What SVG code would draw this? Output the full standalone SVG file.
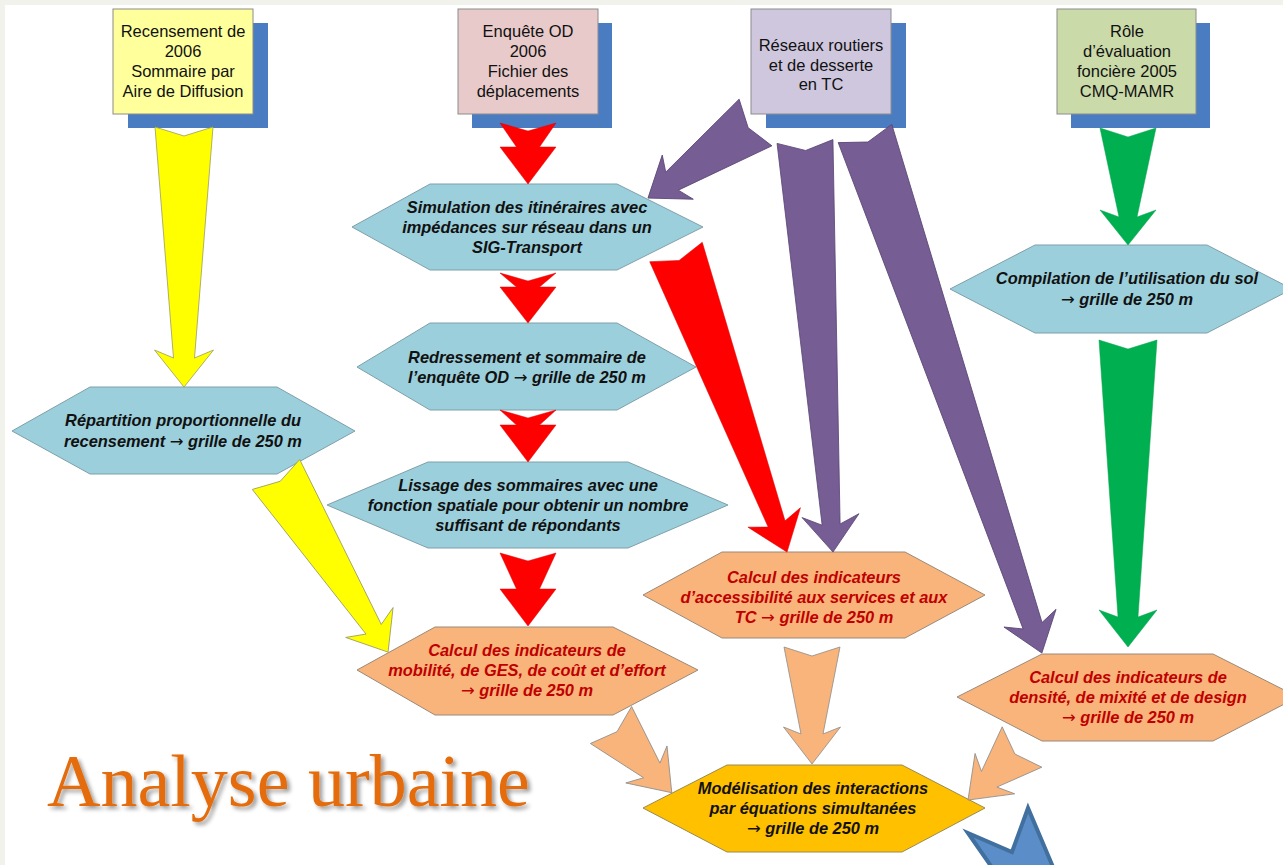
<svg xmlns="http://www.w3.org/2000/svg" width="1283" height="865" viewBox="0 0 1283 865">
<defs>
<style>
.box{stroke:#8c8c8c;stroke-width:1}
.shadow{fill:#4a7cc2}
.bt{font-family:"Liberation Sans",Arial,sans-serif;font-size:16.5px;fill:#111;text-anchor:middle}
.hb{fill:#9bcfdc;stroke:#7fa0aa;stroke-width:1}
.ho{fill:#f8b47a;stroke:#9a8a7a;stroke-width:1}
.hg{fill:#ffc000;stroke:#9a8a50;stroke-width:1}
.ht{font-family:"Liberation Sans",Arial,sans-serif;font-size:16.4px;font-weight:bold;font-style:italic;text-anchor:middle;fill:#111}
.hr{fill:#c00000}
.arw{font-family:"DejaVu Sans",sans-serif;font-weight:normal;font-style:normal}
.ay{fill:#ffff00;stroke:#9c9c60;stroke-width:0.8}
.ar{fill:#ff0000;stroke:#e00000;stroke-width:0.5}
.ap{fill:#765d94;stroke:#5a4575;stroke-width:0.8}
.ag{fill:#00b050;stroke:#00a048;stroke-width:0.5}
.ao{fill:#f8b47a;stroke:#8c8c8c;stroke-width:0.8}
</style>
<filter id="ts" x="-5%" y="-20%" width="115%" height="150%">
<feGaussianBlur in="SourceAlpha" stdDeviation="2"/>
<feOffset dx="3" dy="3" result="b"/>
<feComponentTransfer><feFuncA type="linear" slope="0.4"/></feComponentTransfer>
<feMerge><feMergeNode/><feMergeNode in="SourceGraphic"/></feMerge>
</filter>
</defs>
<rect x="0" y="0" width="1283" height="865" fill="#f2f2ec"/>
<rect x="5" y="5" width="1278" height="860" fill="#ffffff"/>

<g id="src-recensement">
<rect class="shadow" x="128" y="23" width="140" height="105"/>
<rect class="box" x="113" y="9" width="140" height="105" fill="#ffff9c"/>
<text class="bt"><tspan x="183" y="37">Recensement de</tspan><tspan x="183" y="57">2006</tspan><tspan x="183" y="77">Sommaire par</tspan><tspan x="183" y="97">Aire de Diffusion</tspan></text>
</g>
<g id="src-enquete">
<rect class="shadow" x="472" y="23" width="140" height="105"/>
<rect class="box" x="458" y="9" width="140" height="105" fill="#e8caca"/>
<text class="bt"><tspan x="528" y="37">Enquête OD</tspan><tspan x="528" y="57">2006</tspan><tspan x="528" y="77">Fichier des</tspan><tspan x="528" y="97">déplacements</tspan></text>
</g>
<g id="src-reseaux">
<rect class="shadow" x="766" y="23" width="140" height="105"/>
<rect class="box" x="751" y="9" width="140" height="105" fill="#cfc7de"/>
<text class="bt"><tspan x="821" y="51">Réseaux routiers</tspan><tspan x="821" y="70.5">et de desserte</tspan><tspan x="821" y="90">en TC</tspan></text>
</g>
<g id="src-role">
<rect class="shadow" x="1071" y="23" width="139" height="105"/>
<rect class="box" x="1057" y="9" width="139" height="105" fill="#cadaa9"/>
<text class="bt"><tspan x="1127" y="37">Rôle</tspan><tspan x="1127" y="57">d’évaluation</tspan><tspan x="1127" y="77">foncière 2005</tspan><tspan x="1127" y="96.5">CMQ-MAMR</tspan></text>
</g>

<g id="n-simulation">
<polygon class="hb" points="352,227 430,184 617,184 703,227 617,270 430,270"/>
<text class="ht"><tspan x="527" y="213">Simulation des itinéraires avec</tspan><tspan x="527" y="233">impédances sur réseau dans un</tspan><tspan x="527" y="253">SIG-Transport</tspan></text>
</g>
<g id="n-redressement">
<polygon class="hb" points="357,367 430,323 617,323 696,367 617,410 430,410"/>
<text class="ht"><tspan x="527" y="362.5">Redressement et sommaire de</tspan><tspan x="527" y="382.5">l’enquête OD <tspan class="arw">→</tspan> grille de 250 m</tspan></text>
</g>
<g id="n-lissage">
<polygon class="hb" points="327,505 428,462 628,462 728,505 628,548 428,548"/>
<text class="ht"><tspan x="528" y="490.5">Lissage des sommaires avec une</tspan><tspan x="528" y="510.5">fonction spatiale pour obtenir un nombre</tspan><tspan x="528" y="530.5">suffisant de répondants</tspan></text>
</g>
<g id="n-repartition">
<polygon class="hb" points="12,431 90,387 277,387 355,431 277,474 90,474"/>
<text class="ht"><tspan x="183" y="425.5">Répartition proportionnelle du</tspan><tspan x="183" y="446.5">recensement <tspan class="arw">→</tspan> grille de 250 m</tspan></text>
</g>
<g id="n-compilation">
<polygon class="hb" points="950,289 1035,245 1207,245 1292,289 1207,333 1035,333"/>
<text class="ht"><tspan x="1127" y="283.5">Compilation de l’utilisation du sol</tspan><tspan x="1127" y="304.5"><tspan class="arw">→</tspan> grille de 250 m</tspan></text>
</g>
<g id="n-mobilite">
<polygon class="ho" points="357,670 435,627 613,627 698,670 613,715 435,715"/>
<text class="ht hr"><tspan x="527" y="655.5">Calcul des indicateurs de</tspan><tspan x="527" y="675.5">mobilité, de GES, de coût et d’effort</tspan><tspan x="527" y="695.5"><tspan class="arw">→</tspan> grille de 250 m</tspan></text>
</g>
<g id="n-accessibilite">
<polygon class="ho" points="643,595 722,552 905,552 985,595 905,638 722,638"/>
<text class="ht hr"><tspan x="814" y="582.5">Calcul des indicateurs</tspan><tspan x="814" y="602.5">d’accessibilité aux services et aux</tspan><tspan x="814" y="622.5">TC <tspan class="arw">→</tspan> grille de 250 m</tspan></text>
</g>
<g id="n-densite">
<polygon class="ho" points="957,697 1042,654 1213,654 1298,697 1213,741 1042,741"/>
<text class="ht hr"><tspan x="1128" y="682.5">Calcul des indicateurs de</tspan><tspan x="1128" y="702.5">densité, de mixité et de design</tspan><tspan x="1128" y="722.5"><tspan class="arw">→</tspan> grille de 250 m</tspan></text>
</g>
<g id="n-modelisation">
<polygon class="hg" points="643,808 727,765 902,765 985,808 902,852 727,852"/>
<text class="ht"><tspan x="813" y="793.5">Modélisation des interactions</tspan><tspan x="813" y="813.5">par équations simultanées</tspan><tspan x="813" y="833.5"><tspan class="arw">→</tspan> grille de 250 m</tspan></text>
</g>

<g id="connectors">
<polygon class="ay" transform="translate(184,127) rotate(90)" points="0,-29 9,0 0,29 231,10.5 223,29.5 260,0 223,-29.5 231,-10.5"/>
<polygon class="ay" transform="translate(276,474.5) rotate(57.75)" points="0,-28 8,0 0,28 183,9 175,28 210,0 175,-28 183,-9"/>
<polygon class="ar" transform="translate(528,123) rotate(90)" points="0,-28 8,0 0,28 24,11.5 24,28 61,0 24,-28 24,-11.5"/>
<polygon class="ar" transform="translate(528,273) rotate(90)" points="0,-28 8,0 0,28 14,11.5 14,28 50,0 14,-28 14,-11.5"/>
<polygon class="ar" transform="translate(528,410) rotate(90)" points="0,-28 8,0 0,28 15,11.5 15,28 52,0 15,-28 15,-11.5"/>
<polygon class="ar" transform="translate(528,553) rotate(90)" points="0,-28 8,0 0,28 36,11.5 36,28 73,0 36,-28 36,-11.5"/>
<polygon class="ar" transform="translate(676,252) rotate(69.7)" points="0,-28 9,0 0,28 290,9 283,28 320,0 283,-28 290,-9"/>
<polygon class="ap" transform="translate(755.5,122.5) rotate(144.9)" points="0,-28.5 9,0 0,28.5 102,11 95,27 131.4,0 95,-27 102,-11"/>
<polygon class="ap" transform="translate(805,141.5) rotate(86.1)" points="0,-28 9,0 0,28 384,9 375,28.5 411.5,0 375,-28.5 384,-9"/>
<polygon class="ap" transform="translate(865,133.5) rotate(71.2)" points="0,-28.3 9,0 0,28.3 520,10 512,27.5 548.8,0 512,-27.5 520,-10"/>
<polygon class="ag" transform="translate(1128,128) rotate(90)" points="0,-28 9,0 0,28 89,9 82,28 117,0 82,-28 89,-9"/>
<polygon class="ag" transform="translate(1128,340) rotate(90)" points="0,-29 9,0 0,29 277,10 270,29 307,0 270,-29 277,-10"/>
<polygon class="ao" transform="translate(611,725) rotate(48.1)" points="0,-27.7 9,0 0,27.7 61,11 53,27.7 91,0 53,-27.7 61,-11"/>
<polygon class="ao" transform="translate(812,647) rotate(90)" points="0,-28 9,0 0,28 87,11 80,28.5 117,0 80,-28.5 87,-11"/>
<polygon class="ao" transform="translate(1022,747) rotate(135.5)" points="0,-28.3 10,0 0,28.3 46,11 38,28.3 75.7,0 38,-28.3 46,-11"/>
<polygon fill="#5b8ec8" stroke="#41709f" stroke-width="4" stroke-linejoin="miter" points="968,833 1012,852 1028,808 1058.5,880 1000.7,880"/>
</g>

<text x="47" y="806" font-family="'Liberation Serif','Times New Roman',serif" font-size="74" fill="#e46c0a" filter="url(#ts)">Analyse urbaine</text>
</svg>
